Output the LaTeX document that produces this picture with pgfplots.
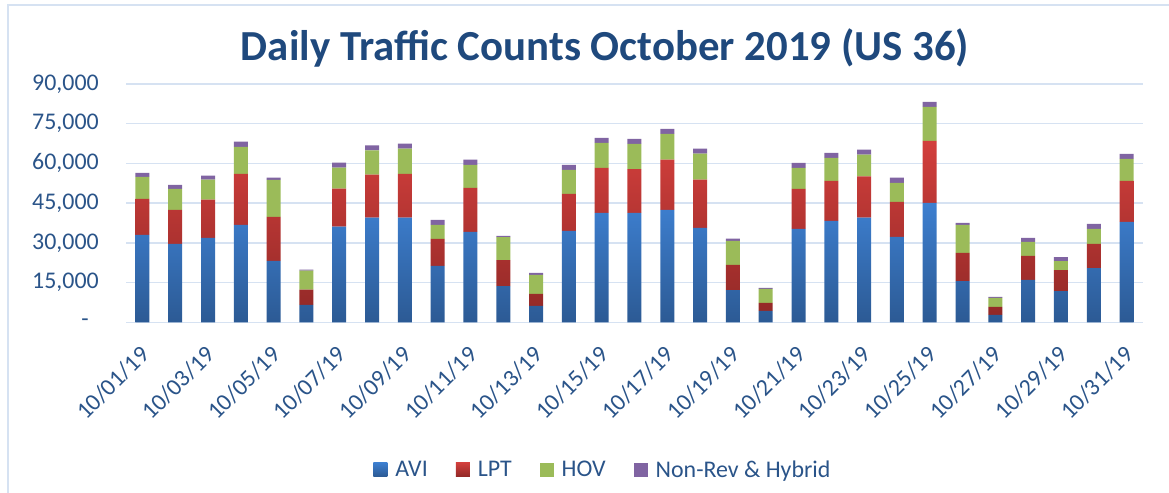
\documentclass[border=0pt]{standalone}
\usepackage{fontspec}
\setmainfont{Carlito}
\usepackage{pgfplots}
\usepackage{pgfplotstable}
\pgfplotsset{compat=1.18}
\definecolor{txtblue}{HTML}{1F497D}
\definecolor{tickblue}{HTML}{2A5489}
\definecolor{gridblue}{HTML}{D6E2F2}
\definecolor{aviT}{HTML}{3D7FD0}
\definecolor{aviB}{HTML}{2C5A94}
\definecolor{lptT}{HTML}{D23F3C}
\definecolor{lptB}{HTML}{922927}
\definecolor{hovC}{HTML}{9BBB59}
\definecolor{nrC}{HTML}{8064A2}
\pgfplotstableread{
x avi lpt hov nr
0 33000 13600 8300 1500
1 29600 12900 7900 1500
2 31900 14400 7600 1500
3 36800 19300 10200 1900
4 23200 16600 14000 800
5 6600 5700 7200 400
6 36100 14400 7900 1900
7 39500 16300 9100 1900
8 39500 16600 9500 1900
9 21300 10200 5300 1900
10 34200 16600 8700 1900
11 13700 9800 8700 400
12 6200 4500 7200 800
13 34500 14000 9100 1900
14 41300 17000 9500 1900
15 41300 16600 9500 1900
16 42500 18900 9800 1900
17 35700 18200 9800 1900
18 12200 9500 9100 800
19 4300 3000 5300 400
20 35300 15100 7900 1900
21 38300 15100 8700 1900
22 39500 15600 8200 1900
23 32300 13200 7200 1900
24 45100 23400 12900 1900
25 15600 10600 10600 800
26 2800 3000 3400 400
27 16000 9100 5300 1500
28 11800 7900 3400 1500
29 20500 9100 5700 1900
30 37900 15500 8300 1900
}\data
\begin{document}
\begin{tikzpicture}
\useasboundingbox (0,0) rectangle (1169bp,-493bp);
\draw[gridblue, line width=1.5bp] (8bp,-500bp) -- (8bp,-5bp) -- (1180bp,-5bp);
\node[anchor=base, text=txtblue, font=\fontsize{43}{48}\selectfont\bfseries] at (605bp,-60bp) {Daily Traffic Counts October 2019 (US 36)};
\begin{axis}[
  at={(126bp,-322.3bp)}, anchor=south west,
  scale only axis, width=1017bp, height=238.3bp,
  ybar stacked, bar width=14bp,
  xmin=-0.5, xmax=30.5, ymin=0, ymax=90000,
  scaled y ticks=false,
  ytick={0,15000,30000,45000,60000,75000,90000},
  yticklabels={{-\hspace*{10bp}},{15,000},{30,000},{45,000},{60,000},{75,000},{90,000}},
  xtick={0,2,...,30},
  xticklabels={10/01/19,10/03/19,10/05/19,10/07/19,10/09/19,10/11/19,10/13/19,10/15/19,10/17/19,10/19/19,10/21/19,10/23/19,10/25/19,10/27/19,10/29/19,10/31/19},
  ymajorgrids, grid style={gridblue, line width=1.5bp},
  axis x line*=bottom, axis y line*=left,
  x axis line style={gridblue, line width=1.5bp, -},
  y axis line style={draw=none},
  tick style={draw=none},
  ticklabel style={text=tickblue, font=\fontsize{24}{28}\selectfont},
  yticklabel style={anchor=east, inner sep=0pt, xshift=-27bp},
  xticklabel style={rotate=45, anchor=east, inner sep=0pt, yshift=-22bp, xshift=-18bp},
  legend columns=4,
  legend style={at={(0.469,-0.618)}, anchor=center, draw=none, fill=none,
    font=\fontsize{24}{28}\selectfont, text=tickblue,
    /tikz/every odd column/.append style={column sep=6bp},
    /tikz/every even column/.append style={column sep=26bp},
    legend cell align=left},
  legend image code/.code={\path[#1, draw=none] (0bp,-7bp) rectangle (14bp,7bp);},
]
\addplot[draw=none, top color=aviT, bottom color=aviB] table[x=x, y=avi] {\data};
\addplot[draw=none, top color=lptT, bottom color=lptB] table[x=x, y=lpt] {\data};
\addplot[draw=none, fill=hovC] table[x=x, y=hov] {\data};
\addplot[draw=none, fill=nrC] table[x=x, y=nr] {\data};
\legend{AVI, LPT, HOV, Non-Rev \& Hybrid}
\end{axis}
\end{tikzpicture}
\end{document}
